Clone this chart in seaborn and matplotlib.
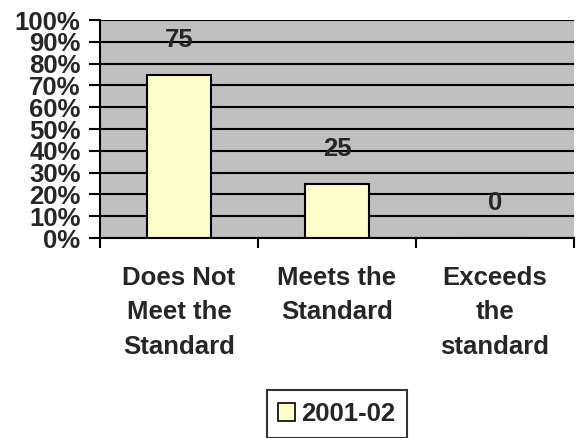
import matplotlib
matplotlib.use("Agg")
import matplotlib.pyplot as plt
import seaborn as sns
import pandas as pd
from matplotlib.ticker import FuncFormatter, FixedLocator
from matplotlib.patches import Patch

# Data
categories = ["Does Not\nMeet the\nStandard", "Meets the\nStandard", "Exceeds\nthe\nstandard"]
values = [75, 25, 0]
series_name = "2001-02"

df = pd.DataFrame({"category": categories, "value": values})

sns.set_style("white")
plt.rcParams["font.family"] = ["Liberation Sans", "DejaVu Sans"]
plt.rcParams["font.weight"] = "bold"
FS = 18.5

fig = plt.figure(figsize=(5.79, 4.38), dpi=100)
ax = fig.add_axes([100 / 579, 1 - 238 / 438, 474 / 579, 218 / 438])
ax.set_facecolor("#C0C0C0")

sns.barplot(data=df, x="category", y="value", color="#FFFFCC", edgecolor="black",
            linewidth=1.5, width=0.4, saturation=1, ax=ax, zorder=3)

ax.set_ylim(0, 100)
ax.set_xlim(-0.5, 2.5)
ax.yaxis.set_major_locator(FixedLocator(range(0, 101, 10)))
ax.yaxis.set_major_formatter(FuncFormatter(lambda v, p: f"{int(v)}%"))
ax.grid(axis="y", color="black", linewidth=1.5, zorder=1)
ax.set_axisbelow(True)

# category boundaries get the tick marks
ax.xaxis.set_minor_locator(FixedLocator([-0.5, 0.5, 1.5, 2.5]))
ax.tick_params(axis="x", which="major", length=0, pad=20, labelsize=FS)
ax.tick_params(axis="x", which="minor", length=7, width=1.5, color="black", direction="out", bottom=True)
ax.tick_params(axis="y", length=8, width=1.5, color="black", direction="out", left=True, labelsize=FS, pad=6)
for lab in ax.get_xticklabels():
    lab.set_linespacing(1.55)
    lab.set_fontweight("bold")
    lab.set_verticalalignment("top")
for lab in ax.get_yticklabels():
    lab.set_fontweight("bold")

ax.set_xlabel("")
ax.set_ylabel("")
for side in ["top", "right"]:
    ax.spines[side].set_visible(False)
for side in ["left", "bottom"]:
    ax.spines[side].set_color("black")
    ax.spines[side].set_linewidth(1.5)

for i, v in enumerate(values):
    ax.annotate(str(v), (i, v), xytext=(0, 25), textcoords="offset points",
                ha="center", va="center", fontsize=FS, fontweight="bold", zorder=5)

handle = Patch(facecolor="#FFFFCC", edgecolor="black", linewidth=1.2)
leg = fig.legend([handle], [series_name], loc="center",
                 bbox_to_anchor=(337 / 579, 1 - 414 / 438), frameon=True,
                 fancybox=False, handlelength=0.65, handleheight=0.65,
                 handletextpad=0.25, borderpad=0.45, prop={"size": FS, "weight": "bold"})
leg.get_frame().set_edgecolor("black")
leg.get_frame().set_linewidth(1.5)

fig.savefig("out.png", dpi=100)
